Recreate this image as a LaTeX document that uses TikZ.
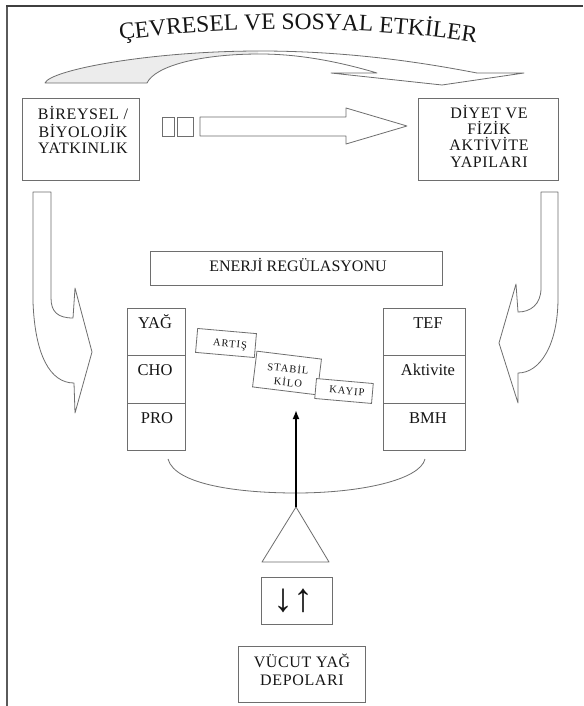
\documentclass[tikz,border=0pt]{standalone}
\usepackage{fontspec}
\setmainfont{Liberation Serif}
\usetikzlibrary{arrows.meta,decorations.text}
\definecolor{lg}{HTML}{6E6E6E}
\definecolor{tx}{HTML}{151515}
\definecolor{fr}{HTML}{5A5A5A}
\definecolor{fillg}{HTML}{ECECEC}
\begin{document}
\begin{tikzpicture}[x=1pt,y=-1pt,
  box/.style={draw=lg, line width=0.8pt, inner sep=0pt, fill=white},
  txt/.style={text=tx, inner sep=0pt, anchor=base},
  big/.style={txt, font=\fontsize{16}{16}\selectfont\addfontfeature{LetterSpace=4}},
  wide/.style={txt, font=\fontsize{16}{16}\selectfont},
  cell/.style={txt, font=\fontsize{16.5}{16.5}\selectfont},
  tiny/.style={txt, font=\fontsize{10.5}{10.5}\selectfont\addfontfeature{LetterSpace=10}},
  shp/.style={draw=lg, line width=0.8pt, line join=round},
]
\useasboundingbox (0,0) rectangle (583,706);
\fill[white] (0,0) rectangle (583,706);
% frame
\draw[fr, line width=2pt] (7,706) -- (7,6);
\draw[fr!70!black, line width=1.3pt] (6,6) -- (583,6);

% title
\path[decorate, decoration={text along path, text align=center,
  text={|\fontsize{23.5}{23.5}\selectfont\color{tx}|ÇEVRESEL VE SOSYAL ETKİLER}}]
  (112,41) .. controls (230,25) and (370,25) .. (484,44);

% top curved arrow
\begin{scope}
\clip (0,0) rectangle (258,100);
\fill[fillg] (45,83) .. controls (50,70) and (150,51) .. (260,51)
  .. controls (360,51) and (440,66) .. (477,73) -- (524,73) -- (442,85) -- (331,73) -- (377,73)
  .. controls (340,62) and (300,54) .. (260,54) .. controls (200,54) and (155,66) .. (147,83) -- cycle;
\end{scope}
\draw[shp] (45,83) .. controls (50,70) and (150,51) .. (260,51)
  .. controls (360,51) and (440,66) .. (477,73) -- (524,73) -- (442,85) -- (331,73) -- (377,73)
  .. controls (340,62) and (300,54) .. (260,54) .. controls (200,54) and (155,66) .. (147,83) -- cycle;

% top boxes
\node[box, minimum width=117pt, minimum height=82pt, anchor=north west] (bir) at (22,98) {};
\node[big] (birA) at (83,120) {BİREYSEL /};
\node[big] (birB) at (83,137) {BİYOLOJİK};
\node[big] (birC) at (83,153) {YATKINLIK};

\node[box, minimum width=140pt, minimum height=82pt, anchor=north west] (diy) at (418,98) {};
\node[big] (diyA) at (489,118) {DİYET VE};
\node[big] (diyB) at (489,134) {FİZİK};
\node[big] (diyC) at (489,150) {AKTİVİTE};
\node[big] (diyD) at (489,167) {YAPILARI};

% small squares and block arrow
\node[box, minimum width=12pt, minimum height=19pt, anchor=north west] (sq1) at (162,117) {};
\node[box, minimum width=16pt, minimum height=19pt, anchor=north west] (sq2) at (177,117) {};
\draw[shp] (200,117) -- (346,117) -- (346,108) -- (407,126) -- (346,144) -- (346,136) -- (200,136) -- cycle;

% side curved arrows
\draw[shp] (33,192) -- (51,192) -- (51,298) .. controls (51,312) and (58,318) .. (73,318)
  -- (75,288) -- (92,352) -- (75,413) -- (74,383) .. controls (50,383) and (35,355) .. (33,302) -- cycle;
\draw[shp] (558,192) -- (541,192) -- (541,288) .. controls (541,305) and (530,312) .. (518,312)
  -- (516,284) -- (499,343) -- (518,403) -- (518,373) .. controls (540,373) and (558,345) .. (558,298) -- cycle;

% energy regulation
\node[box, minimum width=292pt, minimum height=34pt, anchor=north west] (ener) at (150,251) {};
\node[wide] (enerT) at (298,271) {ENERJİ REGÜLASYONU};

% left column
\node[box, minimum width=58pt, minimum height=47pt, anchor=north west] (yag) at (127,308) {};
\node[box, minimum width=58pt, minimum height=48pt, anchor=north west] (cho) at (127,355) {};
\node[box, minimum width=58pt, minimum height=47pt, anchor=north west] (pro) at (127,403) {};
\node[cell] (yagT) at (155,328) {YAĞ};
\node[cell] (choT) at (155,375) {CHO};
\node[cell] (proT) at (157,423) {PRO};

% right column
\node[box, minimum width=82pt, minimum height=47pt, anchor=north west] (tef) at (383,308) {};
\node[box, minimum width=82pt, minimum height=48pt, anchor=north west] (akt) at (383,355) {};
\node[box, minimum width=82pt, minimum height=47pt, anchor=north west] (bmh) at (383,403) {};
\node[cell] (tefT) at (428,328) {TEF};
\node[cell] (aktT) at (428,375) {Aktivite};
\node[cell] (bmhT) at (428,423) {BMH};

% tilted boxes
\node[box, rotate=-7, minimum width=65pt, minimum height=36pt] (stab) at (287,373) {};
\node[box, rotate=-5, minimum width=59pt, minimum height=24pt] (art) at (226,343) {};
\node[box, rotate=-5, minimum width=57pt, minimum height=20pt] (kay) at (344,391) {};
\node[tiny, anchor=center, rotate=-5] (artT) at (230,345) {ARTIŞ};
\node[tiny, anchor=center, rotate=-6] (stabA) at (288,368) {STABİL};
\node[tiny, anchor=center, rotate=-6] (stabB) at (288,382) {KİLO};
\node[tiny, anchor=center, rotate=-5] (kayT) at (347,391) {KAYIP};

% balance
\draw[shp] (168,459) .. controls (175,485) and (240,493) .. (296,493)
  .. controls (360,493) and (420,480) .. (425,459);
\coordinate (apex) at (296,507);
\coordinate (tip) at (296,410);
\draw[shp] (apex) -- (262,562) -- (329,562) -- cycle;
\draw[black, line width=1.8pt, -{Latex[length=9pt,width=7pt]}] (apex) -- (tip);

% up/down box
\node[box, minimum width=71pt, minimum height=47pt, anchor=north west] (arr) at (261,577) {};
\node[txt, anchor=center, font=\fontsize{40}{40}\selectfont] (arrT) at (293,601) {↓↑};

% body fat stores
\node[box, minimum width=127pt, minimum height=56pt, anchor=north west] (vuc) at (238,646) {};
\node[big] (vucA) at (302,667) {VÜCUT YAĞ};
\node[big] (vucB) at (302,685) {DEPOLARI};
\end{tikzpicture}
\end{document}
